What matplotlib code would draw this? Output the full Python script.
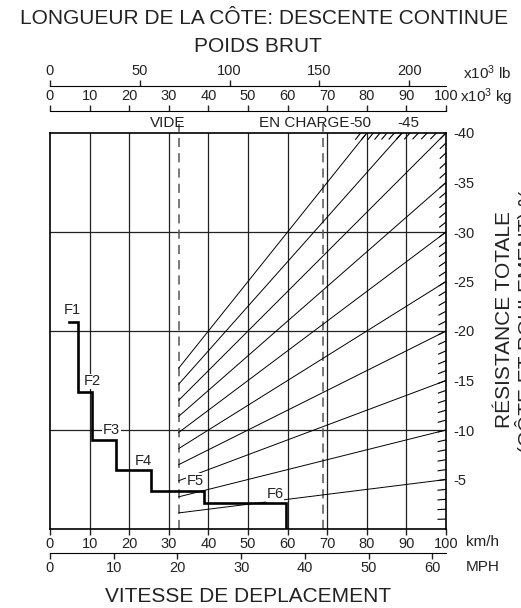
import numpy as np
import matplotlib.pyplot as plt

plt.rcParams['font.family'] = ['Liberation Sans', 'DejaVu Sans']
plt.rcParams['mathtext.default'] = 'regular'

# data
kmh_ticks = list(range(0, 101, 10))
mph_ticks = [0, 10, 20, 30, 40, 50, 60]
kg_ticks = list(range(0, 101, 10))
lb_ticks = [0, 50, 100, 150, 200]
res_ticks = [5, 10, 15, 20, 25, 30, 35, 40]
grid_res = [10, 20, 30]
weight_lines = [5, 10, 15, 20, 25, 30, 35, 40, 45, 50]   # resistance % lines
top_labels = [50, 45]
empty_t = 32.5
loaded_t = 69.0
# step curve (km/h, %)
step_x = [4.8, 7.1, 7.1, 10.7, 10.7, 16.7, 16.7, 25.4, 25.4, 38.9, 38.9, 59.6, 59.6]
step_y = [20.9, 20.9, 13.8, 13.8, 9.0, 9.0, 6.0, 6.0, 3.84, 3.84, 2.66, 2.66, 0.0]
gear_names = ['F1', 'F2', 'F3', 'F4', 'F5', 'F6']
gear_x = [5.7, 10.7, 15.6, 23.6, 36.6, 56.8]
gear_y = [22.1, 14.9, 10.0, 6.9, 4.85, 3.5]

W, H = 521, 608
fig = plt.figure(figsize=(W / 100, H / 100), dpi=100)

def fx(px):
    return px / W

def fy(py):
    return 1 - py / H

left, right, top, bottom = 50, 446, 133, 529
ax = fig.add_axes([fx(left), fy(bottom), fx(right - left), (bottom - top) / H])
ax.set_xlim(0, 100)
ax.set_ylim(0, 40)

col = '#222222'
for x in kmh_ticks[1:-1]:
    ax.axvline(x, color=col, lw=0.9, zorder=1)
for y in grid_res:
    ax.axhline(y, color=col, lw=0.9, zorder=1)

# dashed empty / loaded lines
for xd in [empty_t, loaded_t]:
    ax.plot([xd, xd], [0, 40.9], color='#555555', lw=1.1, ls=(0, (6, 4)), clip_on=False, zorder=2)

# weight lines
for r in weight_lines:
    xe = min(100, 4000 / r)
    xs = np.array([empty_t, xe])
    ax.plot(xs, r * xs / 100, color='black', lw=0.7, zorder=2)

# hatch stubs on the right edge and top
L = 8.0
sx, sy = 396 / 100, 396 / 40
for r in range(1, 52):
    s = r / 100 * sy / sx
    dx = L / np.sqrt(1 + s * s) / sx
    if r <= 40:
        xe = 100
    else:
        xe = 4000 / r
    ax.plot([xe - dx, xe], [r * (xe - dx) / 100, r * xe / 100], color='black', lw=0.8, zorder=2)

# step curve
ax.plot(step_x, step_y, color='black', lw=1.9, zorder=4, solid_joinstyle='miter')
for name, gx, gy in zip(gear_names, gear_x, gear_y):
    ax.text(gx, gy, name, fontsize=10.5, ha='center', va='center', zorder=5, color=col,
            bbox=dict(facecolor='white', edgecolor='none', pad=0.5))

# axes styling
for sp in ax.spines.values():
    sp.set_linewidth(1.2)
ax.set_xticks(kmh_ticks)
ax.set_xticklabels([str(v) for v in kmh_ticks], fontsize=10.5)
ax.tick_params(axis='x', direction='out', length=4, width=1, pad=2, colors=col)
ax.yaxis.tick_right()
ax.set_yticks(res_ticks)
ax.set_yticklabels(['-%d' % v for v in res_ticks], fontsize=10.5)
ax.tick_params(axis='y', length=0, pad=5, colors=col)

def scale_axis(ypix, xmax, ticks, on_top):
    a = fig.add_axes([fx(left), fy(ypix), fx(right - left), 0.0001])
    a.set_xlim(0, xmax)
    if on_top:
        a.xaxis.tick_top()
        hide = ['bottom', 'left', 'right']
    else:
        hide = ['top', 'left', 'right']
    a.set_xticks(ticks)
    a.set_xticklabels([str(v) for v in ticks], fontsize=10.5)
    a.set_yticks([])
    for k in hide:
        a.spines[k].set_visible(False)
    a.tick_params(axis='x', direction='out', length=4, width=1, pad=2, colors=col)
    a.patch.set_alpha(0)
    return a

scale_axis(553, 100 / 1.609344, mph_ticks, False)
scale_axis(111, 100, kg_ticks, True)
scale_axis(86, 100 / 0.45359237, lb_ticks, True)

# texts
tc = '#222222'
fig.text(fx(264), fy(18), 'LONGUEUR DE LA CÔTE: DESCENTE CONTINUE', fontsize=15, ha='center', va='center', color=tc)
fig.text(fx(258), fy(47), 'POIDS BRUT', fontsize=15, ha='center', va='center', color=tc)
fig.text(fx(463), fy(73), 'x10$^3$ lb', fontsize=11, ha='left', va='center', color=tc)
fig.text(fx(460), fy(97), 'x10$^3$ kg', fontsize=11, ha='left', va='center', color=tc)
fig.text(fx(466), fy(542), 'km/h', fontsize=11, ha='left', va='center', color=tc)
fig.text(fx(466), fy(567), 'MPH', fontsize=11, ha='left', va='center', color=tc)
fig.text(fx(248), fy(596), 'VITESSE DE DEPLACEMENT', fontsize=15, ha='center', va='center', color=tc)
fig.text(fx(505), fy(320), 'RÉSISTANCE TOTALE', fontsize=15, ha='center', va='center', rotation=90, color=tc)
# second line runs off the right edge, as in the original
fig.text(fx(526), fy(320), '(CÔTE ET ROULEMENT) %', fontsize=15, ha='center', va='center', rotation=90, color=tc)

ax.text(empty_t - 2.7, 41.0, 'VIDE', fontsize=11, ha='center', va='center', clip_on=False, color=tc)
ax.text(loaded_t - 4.9, 41.0, 'EN CHARGE', fontsize=11, ha='center', va='center', clip_on=False, color=tc)
for r, off in zip(top_labels, [-1.5, 1.5]):
    ax.text(4000 / r + off, 41.0, '-%d' % r, fontsize=11, ha='center', va='center', clip_on=False, color=tc)

fig.savefig('out.png', dpi=100)
